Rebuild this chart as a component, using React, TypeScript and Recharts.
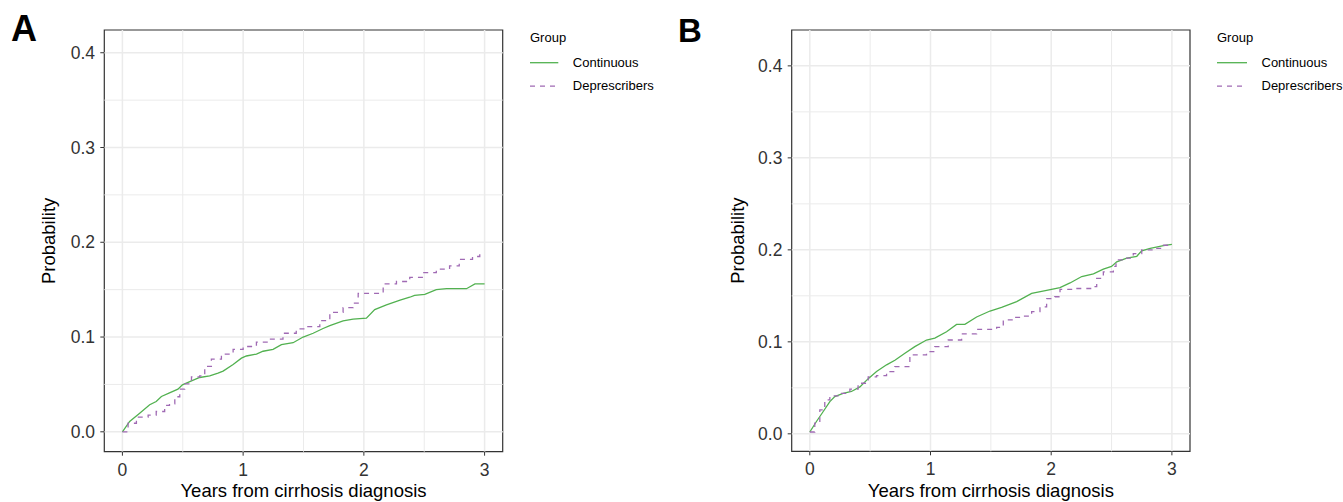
import React from 'react';
import { LineChart, Line, XAxis, YAxis, ReferenceLine, ReferenceArea, Legend, Label } from 'recharts';

// ---- axis ticks / grid ----
const xTicks = [0, 1, 2, 3];
const xMinorGrid = [0.5, 1.5, 2.5];
const yTicks = [0, 0.1, 0.2, 0.3, 0.4];
const yMinorGrid = [0.05, 0.15, 0.25, 0.35];

// ---- groups ----
const groupNames = ['Continuous', 'Deprescribers'];
const groupColors = ['#52B150', '#A06AB4'];
const groupDashes = [undefined, '5 5'];
const groupCurves = ['linear', 'stepAfter'];

// ---- Panel A ----
const aContT = [0, 0.06, 0.143, 0.226, 0.28, 0.323, 0.39, 0.46, 0.497, 0.558, 0.64, 0.723, 0.792, 0.834, 0.917, 0.986, 1.027, 1.11, 1.165, 1.248, 1.317, 1.414, 1.497, 1.58, 1.662, 1.718, 1.828, 1.911, 2.021, 2.09, 2.187, 2.3, 2.38, 2.42, 2.505, 2.6, 2.685, 2.85, 2.92, 3.0];
const aContP = [0, 0.011, 0.0197, 0.0285, 0.032, 0.0373, 0.041, 0.045, 0.0496, 0.053, 0.0573, 0.059, 0.062, 0.064, 0.071, 0.0777, 0.08, 0.082, 0.085, 0.087, 0.092, 0.094, 0.1, 0.104, 0.109, 0.112, 0.117, 0.119, 0.12, 0.129, 0.134, 0.139, 0.142, 0.144, 0.145, 0.15, 0.151, 0.151, 0.156, 0.156];
const aDepT = [0, 0.047, 0.116, 0.213, 0.28, 0.35, 0.39, 0.434, 0.475, 0.516, 0.572, 0.64, 0.682, 0.737, 0.82, 0.917, 1.0, 1.11, 1.22, 1.33, 1.44, 1.52, 1.635, 1.718, 1.828, 1.911, 1.953, 2.077, 2.16, 2.27, 2.38, 2.49, 2.6, 2.71, 2.79, 2.9, 2.96];
const aDepP = [0, 0.009, 0.0155, 0.0176, 0.0214, 0.0278, 0.0295, 0.037, 0.045, 0.0506, 0.058, 0.059, 0.069, 0.0767, 0.082, 0.087, 0.09, 0.0946, 0.0977, 0.104, 0.1086, 0.111, 0.1174, 0.126, 0.131, 0.1357, 0.146, 0.146, 0.156, 0.1586, 0.163, 0.168, 0.1716, 0.175, 0.182, 0.185, 0.19];

// ---- Panel B ----
const bContT = [0, 0.055, 0.11, 0.166, 0.207, 0.276, 0.345, 0.415, 0.484, 0.553, 0.636, 0.705, 0.788, 0.87, 0.967, 1.036, 1.133, 1.216, 1.285, 1.382, 1.493, 1.589, 1.714, 1.838, 1.962, 2.073, 2.156, 2.253, 2.35, 2.432, 2.5, 2.543, 2.626, 2.709, 2.75, 2.82, 2.93, 3.0];
const bContP = [0.002, 0.0134, 0.024, 0.035, 0.0405, 0.044, 0.046, 0.051, 0.06, 0.0677, 0.075, 0.08, 0.0876, 0.0948, 0.102, 0.104, 0.111, 0.119, 0.119, 0.127, 0.1335, 0.1375, 0.1437, 0.1527, 0.156, 0.159, 0.164, 0.171, 0.174, 0.179, 0.182, 0.187, 0.191, 0.193, 0.199, 0.2016, 0.2045, 0.206];
const bDepT = [0, 0.041, 0.083, 0.124, 0.166, 0.207, 0.263, 0.332, 0.4, 0.484, 0.553, 0.636, 0.705, 0.788, 0.829, 0.967, 1.036, 1.147, 1.258, 1.382, 1.548, 1.603, 1.686, 1.769, 1.838, 1.907, 1.962, 2.03, 2.073, 2.184, 2.35, 2.377, 2.432, 2.515, 2.537, 2.626, 2.68, 2.75, 2.847, 2.93, 2.97];
const bDepP = [0.002, 0.0116, 0.026, 0.037, 0.0413, 0.0413, 0.044, 0.0485, 0.055, 0.062, 0.0633, 0.0677, 0.073, 0.073, 0.0858, 0.0894, 0.0948, 0.102, 0.1086, 0.1136, 0.1158, 0.1238, 0.1267, 0.128, 0.1328, 0.138, 0.147, 0.149, 0.157, 0.158, 0.16, 0.169, 0.176, 0.182, 0.189, 0.191, 0.196, 0.2, 0.2016, 0.205, 0.21];

const zip = (t: number[], p: number[]) => t.map((v, i) => ({ t: v, p: p[i] }));

const FONT = '"Liberation Sans", Arial, Helvetica, sans-serif';
const TEXT = '#333333';
const GRID = '#ebebeb';

type PanelProps = {
  left: number;
  width: number;
  plotLeft: number;
  plotRight: number;
  plotTop: number;
  plotBottom: number;
  yDomain: [number, number];
  series: { t: number; p: number }[][];
  yLabelX: number;
  legendLeft: number;
  legendLine: number;
};

function Panel(props: PanelProps) {
  const { left, width, plotLeft, plotRight, plotTop, plotBottom, yDomain, series, yLabelX, legendLeft, legendLine } = props;
  const H = 502;
  const xDomain: [number, number] = [-0.15, 3.15];
  const tickStyle = { fontSize: 17.5, fill: TEXT, fontFamily: FONT };

  const legendContent = () => (
    <svg width={135} height={80} style={{ overflow: 'visible', display: 'block' }}>
      <text x={5} y={17.3} fontSize={13} fill="#000" fontFamily={FONT} dominantBaseline="central">Group</text>
      {groupNames.map((n, i) => (
        <g key={n}>
          <line x1={5} x2={5 + legendLine} y1={42.7 + i * 23.5} y2={42.7 + i * 23.5} stroke={groupColors[i]} strokeWidth={1.3} strokeDasharray={groupDashes[i]} />
          <text x={5 + legendLine + 14.5} y={42.7 + i * 23} fontSize={13} fill="#000" fontFamily={FONT} dominantBaseline="central">{n}</text>
        </g>
      ))}
    </svg>
  );

  return (
    <div style={{ position: 'absolute', left, top: 0, width, height: H }}>
      <LineChart width={width} height={H} margin={{ top: plotTop, right: width - plotRight, bottom: 0, left: 0 }}>
        <XAxis
          type="number"
          dataKey="t"
          domain={xDomain}
          ticks={xTicks}
          allowDataOverflow
          axisLine={false}
          tickLine={{ stroke: TEXT }}
          tickSize={4}
          tickMargin={7.6}
          tick={tickStyle}
          height={H - plotBottom}
        >
          <Label
            content={(lp: any) => {
              const vb = lp.viewBox || {};
              return (
                <text x={vb.x + vb.width / 2} y={496.5} textAnchor="middle" fontSize={18.5} fill="#000" fontFamily={FONT}>
                  Years from cirrhosis diagnosis
                </text>
              );
            }}
          />
        </XAxis>
        <YAxis
          type="number"
          domain={yDomain}
          ticks={yTicks}
          allowDataOverflow
          axisLine={false}
          tickLine={{ stroke: TEXT }}
          tickSize={4}
          tickMargin={5.3}
          tick={tickStyle}
          tickFormatter={(v: number) => v.toFixed(1)}
          width={plotLeft}
        >
          <Label
            content={(lp: any) => {
              const vb = lp.viewBox || {};
              const cy = vb.y + vb.height / 2;
              return (
                <text x={yLabelX} y={cy} transform={`rotate(-90, ${yLabelX}, ${cy})`} textAnchor="middle" fontSize={18.5} fill="#000" fontFamily={FONT}>
                  Probability
                </text>
              );
            }}
          />
        </YAxis>
        {yMinorGrid.map((v) => (
          <ReferenceLine key={'ym' + v} y={v} stroke={GRID} strokeWidth={1} />
        ))}
        {xMinorGrid.map((v) => (
          <ReferenceLine key={'xm' + v} x={v} stroke={GRID} strokeWidth={1} />
        ))}
        {yTicks.map((v) => (
          <ReferenceLine key={'yM' + v} y={v} stroke={GRID} strokeWidth={1.5} />
        ))}
        {xTicks.map((v) => (
          <ReferenceLine key={'xM' + v} x={v} stroke={GRID} strokeWidth={1.5} />
        ))}
        {series.map((d, i) => (
          <Line
            key={groupNames[i]}
            data={d}
            dataKey="p"
            name={groupNames[i]}
            type={groupCurves[i] as any}
            stroke={groupColors[i]}
            strokeWidth={1.3}
            strokeDasharray={groupDashes[i]}
            dot={false}
            activeDot={false}
            isAnimationActive={false}
          />
        ))}
        <ReferenceArea x1={xDomain[0]} x2={xDomain[1]} y1={yDomain[0]} y2={yDomain[1]} fill="none" stroke="#333333" strokeWidth={1.2} ifOverflow="visible" />
        <Legend
          layout="vertical"
          align="center"
          verticalAlign="middle"
          wrapperStyle={{ left: legendLeft, top: 20, width: 135, height: 80 }}
          content={legendContent}
        />
      </LineChart>
    </div>
  );
}

export default function App() {
  return (
    <div style={{ position: 'absolute', left: 0, top: 0, width: 1343, height: 502, background: '#fff', fontFamily: FONT, overflow: 'hidden' }}>
      <Panel
        left={0}
        width={671}
        plotLeft={104.3}
        plotRight={502.7}
        plotTop={30}
        plotBottom={451.7}
        yDomain={[-0.021, 0.424]}
        series={[zip(aContT, aContP), zip(aDepT, aDepP)]}
        yLabelX={55.3}
        legendLeft={525}
        legendLine={28.3}
      />
      <Panel
        left={671}
        width={672}
        plotLeft={120.7}
        plotRight={519}
        plotTop={30}
        plotBottom={451.3}
        yDomain={[-0.019, 0.439]}
        series={[zip(bContT, bContP), zip(bDepT, bDepP)]}
        yLabelX={72.7}
        legendLeft={540.7}
        legendLine={30}
      />
      <svg width={1343} height={60} style={{ position: 'absolute', left: 0, top: 0, pointerEvents: 'none' }}>
        <text x={11} y={41} fontSize={36} fontWeight="bold" fill="#000" fontFamily={FONT}>A</text>
        <text x={678} y={41.7} fontSize={33} fontWeight="bold" fill="#000" fontFamily={FONT}>B</text>
      </svg>
    </div>
  );
}
